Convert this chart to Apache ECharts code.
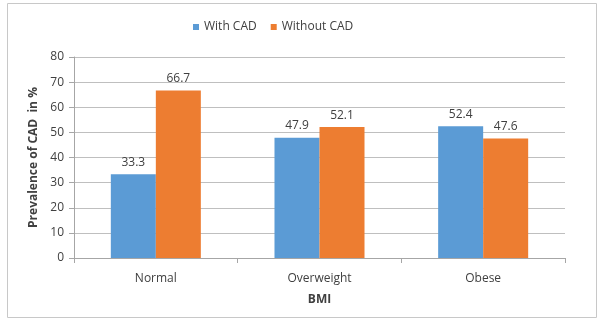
<!DOCTYPE html>
<html><head><meta charset="utf-8">
<script src="https://cdn.jsdelivr.net/npm/echarts@6/dist/echarts.min.js"></script>
<style>html,body{margin:0;padding:0;background:#fff}#c{width:603px;height:323px}</style>
</head><body><div id="c"></div>
<script>
var categories = ['Normal', 'Overweight', 'Obese'];
var withCAD = [33.3, 47.9, 52.4];
var withoutCAD = [66.7, 52.1, 47.6];
var seriesNames = ['With CAD', 'Without CAD'];
var yTicks = {min: 0, max: 80, interval: 10};

var font = '"Open Sans", "Liberation Sans", sans-serif';
var chart = echarts.init(document.getElementById('c'), null, {renderer: 'canvas'});
var lbl = {show: true, position: 'top', color: '#404040', fontSize: 12, fontFamily: font, distance: 6};
chart.setOption({
  animation: false,
  graphic: [{type: 'rect', shape: {x: 7.5, y: 3.5, width: 589, height: 314}, style: {fill: 'none', stroke: '#c8c8c8', lineWidth: 1}, silent: true}],
  legend: {
    top: 16, left: 188, itemWidth: 6, itemHeight: 6, itemGap: 14,
    icon: 'rect',
    textStyle: {color: '#404040', fontSize: 12, fontFamily: font},
    data: seriesNames
  },
  grid: {left: 74, right: 38, top: 57, bottom: 65},
  xAxis: {
    type: 'category', data: categories,
    name: 'BMI', nameLocation: 'middle', nameGap: 36,
    nameTextStyle: {color: '#404040', fontWeight: 'bold', fontSize: 12, fontFamily: font},
    axisLine: {lineStyle: {color: '#a6a6a6'}},
    axisTick: {show: true, length: 5, lineStyle: {color: '#a6a6a6'}},
    axisLabel: {color: '#404040', fontSize: 12, fontFamily: font, margin: 15}
  },
  yAxis: {
    type: 'value', min: yTicks.min, max: yTicks.max, interval: yTicks.interval,
    name: 'Prevalence of CAD  in %', nameLocation: 'middle', nameGap: 32, nameRotate: 90,
    nameTextStyle: {color: '#404040', fontWeight: 'bold', fontSize: 12, fontFamily: font},
    axisLine: {show: true, lineStyle: {color: '#a6a6a6'}},
    axisTick: {show: true, length: 5, lineStyle: {color: '#a6a6a6'}},
    axisLabel: {color: '#404040', fontSize: 12, fontFamily: font, margin: 10},
    splitLine: {lineStyle: {color: '#bfbfbf'}}
  },
  series: [
    {name: seriesNames[0], type: 'bar', data: withCAD, itemStyle: {color: '#5B9BD5'}, barGap: '0%', barCategoryGap: '45%', label: lbl},
    {name: seriesNames[1], type: 'bar', data: withoutCAD, itemStyle: {color: '#ED7D31'}, barGap: '0%', barCategoryGap: '45%', label: lbl}
  ]
});
</script></body></html>
